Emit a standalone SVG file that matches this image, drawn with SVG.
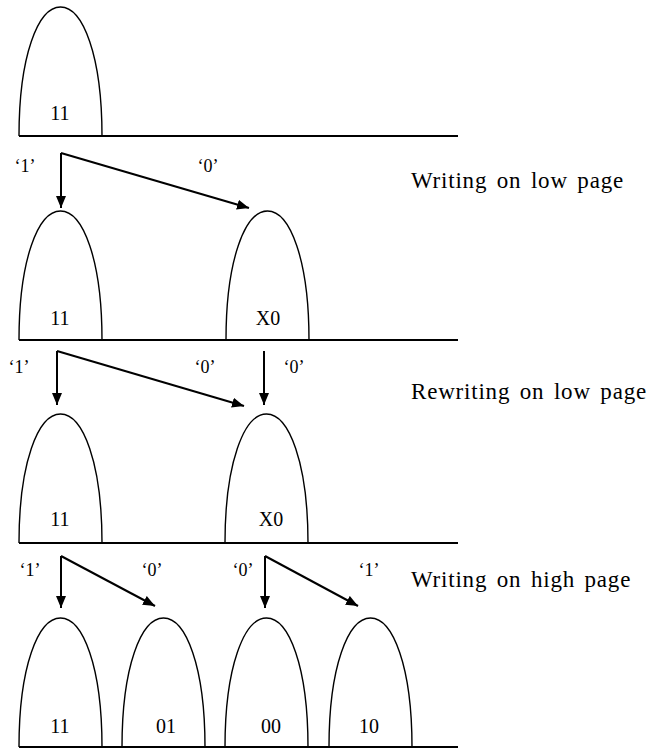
<svg xmlns="http://www.w3.org/2000/svg" width="649" height="751" viewBox="0 0 649 751" font-family="'Liberation Serif', 'Times New Roman', Times, serif">
<style>
.base{stroke:#000;stroke-width:2;fill:none}
.bump{stroke:#000;stroke-width:1.4;fill:none}
.arr{stroke:#000;stroke-width:2;fill:none;marker-end:url(#ah)}
text{font-family:'Liberation Serif','Times New Roman',Times,serif;fill:#000}
.lbl{font-size:20px;text-anchor:middle}
.bit{font-size:18px;text-anchor:middle}
.cap{font-size:23px;word-spacing:3px;letter-spacing:0.8px}
</style>
<defs>
<marker id="ah" markerUnits="userSpaceOnUse" viewBox="0 0 12 10" refX="12" refY="5" markerWidth="12" markerHeight="10" orient="auto">
<path d="M0,0 L12,5 L0,10 z" fill="#000"/>
</marker>
<path id="b" d="M0,0 C0,-80 19,-129 41.5,-129 C64,-129 83,-80 83,0"/>
</defs>

<g id="axes">
<line class="base" x1="19" y1="136" x2="458" y2="136"/>
<line class="base" x1="19" y1="340" x2="458" y2="340"/>
<line class="base" x1="19" y1="543" x2="458" y2="543"/>
<line class="base" x1="19" y1="747" x2="458" y2="747"/>
</g>

<g id="s1-11"><use href="#b" class="bump" transform="translate(19,136)"/><text class="lbl" x="60" y="120">11</text></g>

<g id="s2-11"><use href="#b" class="bump" transform="translate(19,340)"/><text class="lbl" x="60" y="325">11</text></g>
<g id="s2-X0"><use href="#b" class="bump" transform="translate(226,340)"/><text class="lbl" x="268" y="325">X0</text></g>

<g id="s3-11"><use href="#b" class="bump" transform="translate(19,543)"/><text class="lbl" x="60" y="526">11</text></g>
<g id="s3-X0"><use href="#b" class="bump" transform="translate(225,543)"/><text class="lbl" x="271" y="526">X0</text></g>

<g id="s4-11"><use href="#b" class="bump" transform="translate(19,747)"/><text class="lbl" x="60" y="733">11</text></g>
<g id="s4-01"><use href="#b" class="bump" transform="translate(122,747)"/><text class="lbl" x="166" y="733">01</text></g>
<g id="s4-00"><use href="#b" class="bump" transform="translate(225,747)"/><text class="lbl" x="271" y="733">00</text></g>
<g id="s4-10"><use href="#b" class="bump" transform="translate(329,747)"/><text class="lbl" x="369" y="733">10</text></g>

<g id="connectors">
<path class="arr" d="M61,153 L61,208"/>
<path class="arr" d="M61,153 L249,208"/>
<path class="arr" d="M57,351 L57,405"/>
<path class="arr" d="M57,351 L244,406"/>
<path class="arr" d="M264,351 L264,405"/>
<path class="arr" d="M61,556 L61,608"/>
<path class="arr" d="M61,556 L155,606"/>
<path class="arr" d="M265,556 L265,608"/>
<path class="arr" d="M265,556 L358,606"/>
</g>

<g id="bits">
<text class="bit" x="25" y="172">‘1’</text>
<text class="bit" x="208" y="172">‘0’</text>
<text class="bit" x="19" y="373">‘1’</text>
<text class="bit" x="205" y="373">‘0’</text>
<text class="bit" x="294" y="373">‘0’</text>
<text class="bit" x="30" y="576">‘1’</text>
<text class="bit" x="152" y="576">‘0’</text>
<text class="bit" x="243" y="576">‘0’</text>
<text class="bit" x="369" y="576">‘1’</text>
</g>

<g id="captions">
<text class="cap" x="411" y="188">Writing on low page</text>
<text class="cap" x="411" y="399">Rewriting on low page</text>
<text class="cap" x="411" y="587">Writing on high page</text>
</g>
</svg>
